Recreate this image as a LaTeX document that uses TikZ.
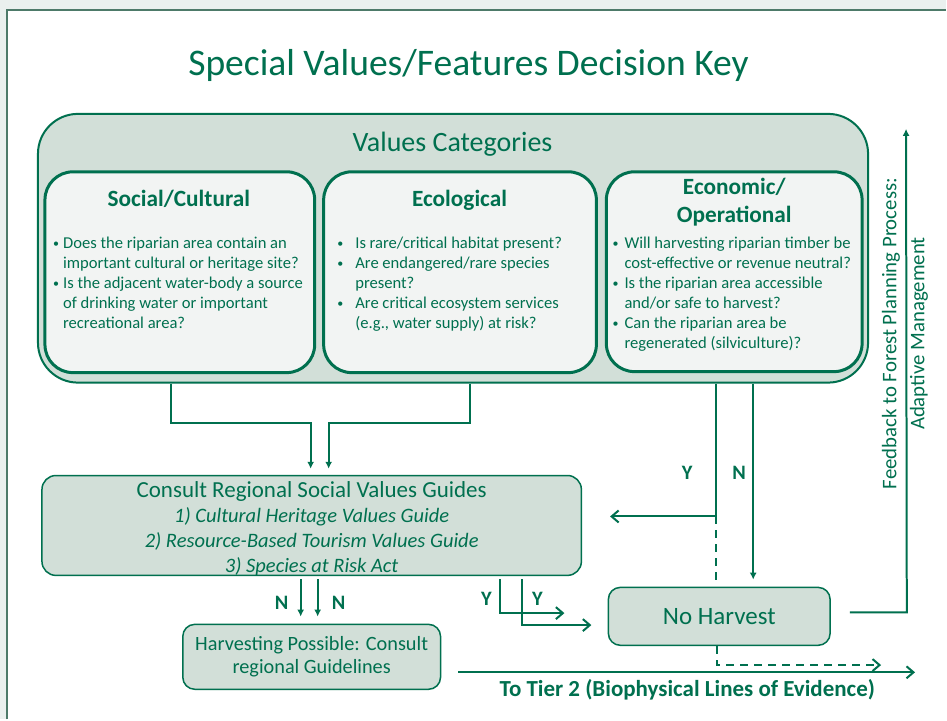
\documentclass[tikz,border=0pt]{standalone}
\usepackage{fontspec}
\setmainfont{Carlito}
\usepackage{tikz}
\usetikzlibrary{arrows.meta}

\definecolor{keygreen}{HTML}{00704F}
\definecolor{keyfill}{HTML}{D2DFD8}
\definecolor{keypale}{HTML}{F2F4F3}
\definecolor{keyback}{HTML}{EAF0EE}
\definecolor{keyframe}{HTML}{4D7A69}

\newcommand{\fs}[2]{\fontsize{#1}{#2}\selectfont}
\newcommand{\dotitem}{\raisebox{1pt}{\fs{12}{12}\textbullet}}

\begin{document}
\begin{tikzpicture}[x=1pt, y=-1pt,
    every node/.style={text=keygreen},
    catbox/.style={draw=keygreen, line width=2pt, fill=keyfill, rounded corners=40pt},
    valbox/.style={draw=keygreen, line width=3pt, fill=keypale, rounded corners=28pt},
    guidebox/.style={draw=keygreen, line width=1.5pt, fill=keyfill, rounded corners=14pt},
    heading/.style={font=\fs{23.3}{28}\bfseries, anchor=base},
    qlist/.style={anchor=north west, inner sep=0pt, font=\fs{16.6}{20.2}},
    yn/.style={font=\fs{20.5}{24}\bfseries},
    flowline/.style={draw=keygreen, line width=2pt},
    openarrow/.style={flowline, -{Straight Barb[length=7pt, width=12pt, line width=2pt]}},
    filledarrow/.style={flowline, -{Latex[length=7pt, width=7pt]}}
]

    % page and frame
    \fill[keyback] (0,0) rectangle (947,720);
    \fill[white] (7,10) rectangle (947,720);
    \draw[keyframe, line width=2pt] (7,720) -- (7,10) -- (947,10);
    \useasboundingbox (0,0) rectangle (947,720);

    \node[font=\fs{37.6}{44}, anchor=base] (title) at (469,76)
    {Special Values/Features Decision Key};

    % values categories
    \node[catbox, minimum width=831, minimum height=269] (cats) at (453.5,248.5) {};
    \node[font=\fs{28}{32}, anchor=base] (catshd) at (453,152) {Values Categories};

    \node[valbox, minimum width=270, minimum height=201] (social) at (180,272.5) {};
    \node[valbox, minimum width=273, minimum height=201] (eco) at (460.5,272.5) {};
    \node[valbox, minimum width=256, minimum height=200] (econ) at (735,272) {};

    \node[heading] (socialhd) at (179,207) {Social/Cultural};
    \node[heading] (ecohd) at (460,207) {Ecological};
    \node[heading, anchor=center, align=center] (econhd) at (735,202.5)
    {Economic/\\Operational};

    \node[qlist] (socialtx) at (53,234)
    {\begin{tabular}{@{}p{10pt}@{}l@{}}
    \dotitem & Does the riparian area contain an\\
    & important cultural or heritage site?\\
    \dotitem & Is the adjacent water-body a source\\
    & of drinking water or important\\
    & recreational area?
    \end{tabular}};

    \node[qlist] (ecotx) at (337.5,234)
    {\begin{tabular}{@{}p{18pt}@{}l@{}}
    \dotitem & Is rare/critical habitat present?\\
    \dotitem & Are endangered/rare species\\
    & present?\\
    \dotitem & Are critical ecosystem services\\
    & (e.g., water supply) at risk?
    \end{tabular}};

    \node[qlist] (econtx) at (613,234)
    {\begin{tabular}{@{}p{12pt}@{}l@{}}
    \dotitem & Will harvesting riparian timber be\\
    & cost-effective or revenue neutral?\\
    \dotitem & Is the riparian area accessible\\
    & and/or safe to harvest?\\
    \dotitem & Can the riparian area be\\
    & regenerated (silviculture)?
    \end{tabular}};

    % guides and outcomes
    \node[guidebox, minimum width=540, minimum height=100] (consult) at (312,526) {};
    \node[align=center, font=\fs{20.5}{25}] (consulttx) at (312,529)
    {{\fs{23}{25}Consult Regional Social Values Guides}\\
    \itshape 1) Cultural Heritage Values Guide\\
    \itshape 2) Resource-Based Tourism Values Guide\\
    \itshape 3) Species at Risk Act};

    \node[guidebox, rounded corners=12pt, minimum width=258, minimum height=65,
          align=center, font=\fs{20.3}{23}] (harv) at (312,657.5)
    {Harvesting Possible: Consult\\regional Guidelines};

    \node[guidebox, rounded corners=12pt, minimum width=222, minimum height=58,
          font=\fs{25}{30}] (nohar) at (720,617) {No Harvest};

    % connectors
    \draw[filledarrow, shorten >=6pt] (171,0 |- cats.south) -- ++(0,39)
        -| ([xshift=-1pt]consult.north);
    \draw[filledarrow, shorten >=6pt] (470,0 |- cats.south) -- ++(0,39)
        -| ([xshift=17pt]consult.north);

    \draw[flowline] (717,0 |- cats.south) -- (717,517) coordinate (yjoin);
    \draw[openarrow, shorten >=28pt] (yjoin) -- (yjoin -| consult.east);
    \draw[flowline, dash pattern=on 8pt off 6pt, shorten >=6pt] (yjoin) -- (yjoin |- nohar.north);
    \draw[filledarrow, shorten >=7pt] (754,0 |- cats.south) -- (754,0 |- nohar.north);

    \draw[openarrow] ([xshift=189pt, yshift=-3pt]consult.south) -- ++(0,34) -- ++(64,0);
    \draw[openarrow] ([xshift=211pt, yshift=-3pt]consult.south) -- ++(0,46) -- ++(69,0);

    \draw[filledarrow, shorten >=7pt] ([xshift=-11pt, yshift=-3pt]consult.south)
        -- ([xshift=-11pt]harv.north);
    \draw[filledarrow, shorten >=7pt] ([xshift=6pt, yshift=-3pt]consult.south)
        -- ([xshift=6pt]harv.north);

    \draw[openarrow, dash pattern=on 8pt off 6pt] ([xshift=-2pt]nohar.south) -- ++(0,19) -- ++(164,0);
    \draw[openarrow, shorten <=17pt] (harv.east |- 0,673) -- (916,673);
    \draw[filledarrow] ([xshift=19pt, yshift=4pt]nohar.east) -- ++(57,0) -- (907,129);

    % labels
    \node[yn] (yecon) at (688,473) {Y};
    \node[yn] (necon) at (740,473) {N};
    \node[yn] (yguide1) at (487,599) {Y};
    \node[yn] (yguide2) at (538,599) {Y};
    \node[yn] (nguide1) at (282,603) {N};
    \node[yn] (nguide2) at (339,603) {N};

    \node[font=\fs{23}{26}\bfseries, anchor=base] (tier) at (688,697)
    {To Tier 2 (Biophysical Lines of Evidence)};

    \node[rotate=90, align=center, font=\fs{20.8}{28}] (feedback) at (906,334)
    {Feedback to Forest Planning Process:\\Adaptive Management};

\end{tikzpicture}
\end{document}
